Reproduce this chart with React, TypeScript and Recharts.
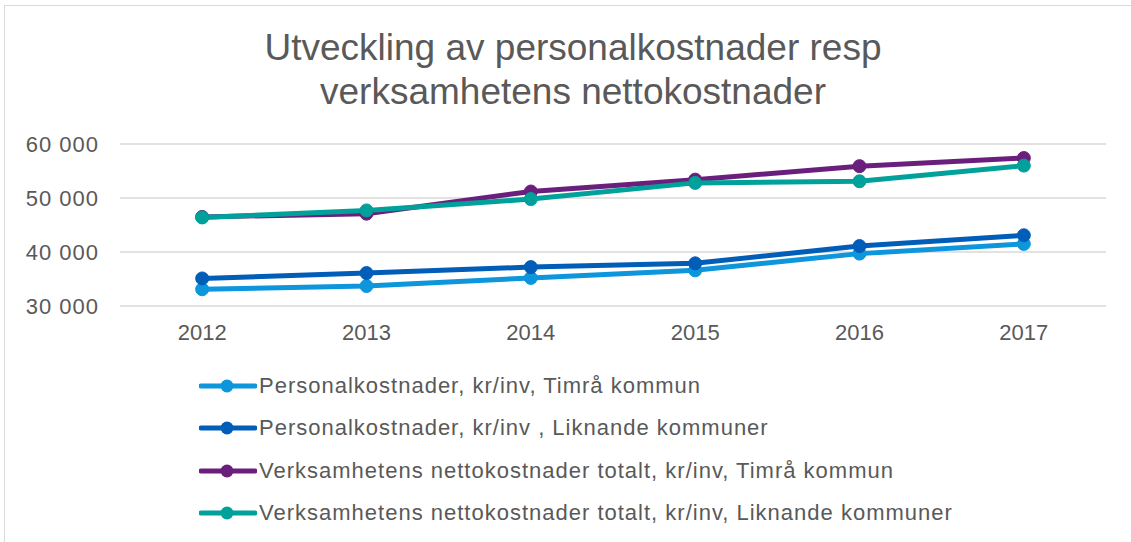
import { LineChart, Line, XAxis, YAxis, CartesianGrid } from 'recharts';

const years = ['2012', '2013', '2014', '2015', '2016', '2017'];
const personalTimra = [33100, 33700, 35200, 36600, 39700, 41500];
const personalLiknande = [35100, 36100, 37200, 37900, 41100, 43100];
const nettoTimra = [46500, 47100, 51200, 53400, 55900, 57400];
const nettoLiknande = [46400, 47700, 49800, 52800, 53100, 56000];
const yTicks = [30000, 40000, 50000, 60000];

const series = [
  { key: 'personalTimra', name: 'Personalkostnader, kr/inv, Timrå kommun', color: '#0d96dc' },
  { key: 'personalLiknande', name: 'Personalkostnader, kr/inv , Liknande kommuner', color: '#005eb8' },
  { key: 'nettoTimra', name: 'Verksamhetens nettokostnader totalt, kr/inv, Timrå kommun', color: '#6b1f7c' },
  { key: 'nettoLiknande', name: 'Verksamhetens nettokostnader totalt, kr/inv, Liknande kommuner', color: '#00a19a' },
];

const data = years.map((year, i) => ({
  year,
  personalTimra: personalTimra[i],
  personalLiknande: personalLiknande[i],
  nettoTimra: nettoTimra[i],
  nettoLiknande: nettoLiknande[i],
}));

const fmt = (v: number) => `${Math.floor(v / 1000)} ${String(v % 1000).padStart(3, '0')}`;

const font = '"Liberation Sans", Arial, sans-serif';
const textColor = '#595959';

const legendTop = [386, 428, 471, 513];

export default function App() {
  return (
    <div
      style={{
        position: 'fixed',
        left: 0,
        top: 0,
        width: 1131,
        height: 542,
        background: '#fff',
        fontFamily: font,
        overflow: 'hidden',
      }}
    >
      <div
        style={{
          position: 'absolute',
          left: 4,
          top: 5,
          width: 1140,
          height: 560,
          border: '1px solid #d9d9d9',
        }}
      />
      <div
        style={{
          position: 'absolute',
          left: 0,
          top: 26,
          width: 1146,
          textAlign: 'center',
          fontSize: 37,
          lineHeight: '44px',
          color: textColor,
        }}
      >
        Utveckling av personalkostnader resp
        <br />
        verksamhetens nettokostnader
      </div>
      <LineChart
        width={1131}
        height={542}
        data={data}
        margin={{ top: 144, right: 25, left: 0, bottom: 195 }}
        style={{ position: 'absolute', left: 0, top: 0 }}
      >
        <CartesianGrid vertical={false} stroke="#d9d9d9" strokeWidth={1.5} />
        <XAxis
          dataKey="year"
          scale="band"
          axisLine={false}
          tickLine={false}
          tickSize={0}
          tickMargin={18}
          height={41}
          tick={{ fill: textColor, fontSize: 22, fontFamily: font }}
        />
        <YAxis
          domain={[30000, 60000]}
          ticks={yTicks}
          width={120}
          axisLine={false}
          tickLine={false}
          tickSize={0}
          tickMargin={21}
          tickFormatter={fmt}
          tick={{ fill: textColor, fontSize: 22, fontFamily: font, letterSpacing: 1 }}
        />
        {series.map((s) => (
          <Line
            key={s.key}
            dataKey={s.key}
            name={s.name}
            stroke={s.color}
            strokeWidth={5}
            dot={{ r: 6.5, fill: s.color, stroke: s.color, strokeWidth: 1 }}
            isAnimationActive={false}
          />
        ))}
      </LineChart>
      {series.map((s, i) => (
        <div
          key={s.key}
          style={{
            position: 'absolute',
            left: 199,
            top: legendTop[i] - 14,
            height: 28,
            display: 'flex',
            alignItems: 'center',
            fontSize: 22,
            letterSpacing: 1,
            color: textColor,
            whiteSpace: 'nowrap',
          }}
        >
          <svg width={58} height={16} style={{ marginRight: 2 }}>
            <line x1={2} y1={8} x2={56} y2={8} stroke={s.color} strokeWidth={5} strokeLinecap="round" />
            <circle cx={28} cy={8} r={6.5} fill={s.color} />
          </svg>
          {s.name}
        </div>
      ))}
    </div>
  );
}
